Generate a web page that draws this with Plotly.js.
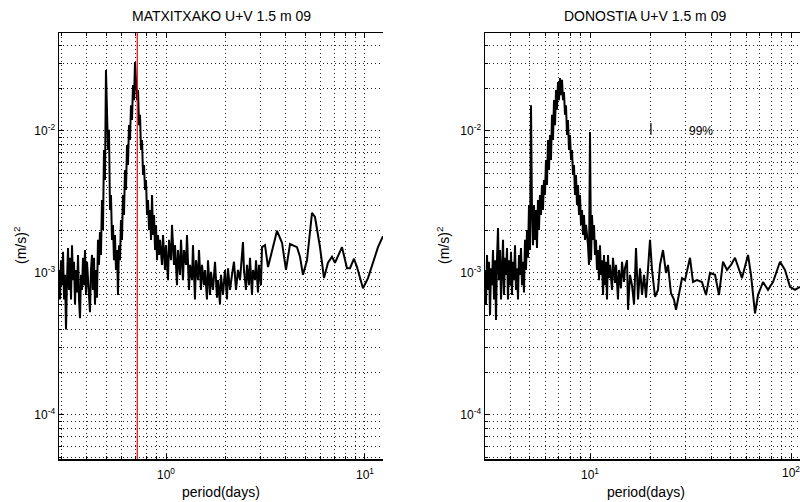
<!DOCTYPE html>
<html>
<head>
<meta charset="utf-8">
<script src="https://cdn.plot.ly/plotly-3.0.1.min.js"></script>
<style>html,body{margin:0;padding:0;background:#fff;}#chart{width:800px;height:502px;}</style>
</head>
<body>
<div id="chart"></div>
<script>
// ---------------- DATA ----------------
const titleLeft = 'MATXITXAKO U+V 1.5 m 09';
const titleRight = 'DONOSTIA U+V 1.5 m 09';
const xAxisTitle = 'period(days)';
const yAxisTitle = '(m/s)<sup>2</sup>';

// MATXITXAKO spectrum: period (days), power ((m/s)^2)
const periodLeft = [0.290,0.2934,0.2968,0.3003,0.3038,0.3073,0.3109,0.3144,0.3181,0.3218,0.3256,0.3293,0.3332,0.3370,0.3410,0.3449,0.3489,0.3530,0.3571,0.3613,0.3655,0.3697,0.3740,0.3784,0.3828,0.3872,0.3917,0.3963,0.4009,0.4055,0.4102,0.4150,0.4198,0.4247,0.4296,0.4346,0.4397,0.4448,0.4499,0.4552,0.4605,0.4658,0.4712,0.4767,0.4823,0.4879,0.4936,0.4993,0.5051,0.5110,0.5170,0.5230,0.5291,0.5352,0.5415,0.5478,0.5541,0.5606,0.5671,0.5737,0.5804,0.5872,0.5940,0.6009,0.6079,0.6150,0.6222,0.6295,0.6368,0.6442,0.6517,0.6593,0.6670,0.6748,0.6826,0.6906,0.6986,0.7068,0.7150,0.7234,0.7318,0.7403,0.7489,0.7577,0.7665,0.7754,0.7845,0.7936,0.8029,0.8122,0.8217,0.8313,0.8410,0.8508,0.8607,0.8707,0.8808,0.8911,0.9015,0.9119,0.9222,0.9329,0.9548,0.9659,0.9885,1.0,1.0234,1.0353,1.0596,1.0719,1.0970,1.1097,1.1357,1.1489,1.1759,1.1895,1.2173,1.2315,1.2603,1.2749,1.3048,1.3199,1.3508,1.3665,1.3985,1.4147,1.4479,1.4647,1.4990,1.5164,1.5523,1.5704,1.6069,1.6256,1.6636,1.6830,1.7224,1.7627,1.8040,1.8250,1.8677,1.8894,1.9336,1.9790,2.0253,2.0489,2.0968,2.1459,2.1961,2.2475,2.3001,2.3540,2.4091,2.4371,2.4655,2.5232,2.5526,2.6124,2.6428,2.7047,2.7362,2.8003,2.8329,2.8992,2.9330,3.0017,3.0366,3.1445,3.2560,3.4096,3.6134,3.8285,4.0089,4.2005,4.5540,4.7143,4.8803,5.1111,5.4163,5.6072,5.9407,6.2230,6.5170,6.8260,7.0660,7.6634,8.1202,8.4073,8.8058,9.1169,9.7700,10.354,10.970,11.624,12.316];
const powerLeft = [1.05e-3,6.5e-4,1.23e-3,8.2e-4,1.41e-3,6.5e-4,9.7e-4,4.0e-4,8.9e-4,1.5e-3,7.6e-4,1.28e-3,6.5e-4,1.57e-3,8.9e-4,1.2e-3,6.0e-4,1.05e-3,7.3e-4,1.34e-3,6.5e-4,4.8e-4,9.7e-4,7.6e-4,1.28e-3,8.2e-4,1.45e-3,7.0e-4,1.2e-3,8.9e-4,6.5e-4,5.3e-4,1.05e-3,1.34e-3,7.6e-4,1.28e-3,6.0e-4,1.05e-3,6.7e-4,1.71e-3,1.14e-3,1.94e-3,1.34e-3,3.27e-3,2.01e-3,7.35e-3,4.52e-3,2.69e-2,1.41e-2,7.35e-3,1.02e-2,2.78e-3,3.54e-3,1.71e-3,2.18e-3,1.23e-3,1.85e-3,1.05e-3,1.45e-3,7.0e-4,1.57e-3,1.23e-3,2.36e-3,1.71e-3,3.54e-3,2.56e-3,5.31e-3,3.84e-3,7.97e-3,5.76e-3,1.10e-2,8.64e-3,1.52e-2,1.195e-2,2.11e-2,1.65e-2,3.06e-2,2.29e-2,1.65e-2,1.94e-2,1.10e-2,1.30e-2,7.35e-3,8.64e-3,4.9e-3,5.76e-3,3.84e-3,4.52e-3,2.56e-3,3.27e-3,2.01e-3,2.78e-3,1.71e-3,3.54e-3,1.85e-3,2.56e-3,1.45e-3,2.18e-3,1.23e-3,1.85e-3,1.34e-3,1.71e-3,1.14e-3,1.85e-3,1.05e-3,1.57e-3,8.9e-4,1.71e-3,1.23e-3,2.18e-3,1.14e-3,1.57e-3,8.2e-4,1.45e-3,9.7e-4,1.71e-3,8.9e-4,1.45e-3,1.14e-3,1.85e-3,7.6e-4,1.14e-3,8.9e-4,1.57e-3,6.5e-4,1.23e-3,8.9e-4,1.45e-3,7.6e-4,1.14e-3,8.2e-4,1.05e-3,6.5e-4,1.23e-3,7.0e-4,1.02e-3,7.6e-4,1.2e-3,6.7e-4,8.9e-4,6.0e-4,9.7e-4,7.0e-4,1.05e-3,6.5e-4,1.08e-3,7.6e-4,9.7e-4,1.2e-3,7.6e-4,1.05e-3,8.9e-4,1.34e-3,1.65e-3,1.05e-3,7.6e-4,1.14e-3,8.2e-4,1.28e-3,7.0e-4,1.05e-3,8.9e-4,1.23e-3,7.3e-4,1.14e-3,8.2e-4,1.52e-3,1.57e-3,1.10e-3,1.41e-3,1.98e-3,1.63e-3,1.05e-3,1.60e-3,1.52e-3,1.30e-3,9.7e-4,1.23e-3,2.65e-3,2.48e-3,1.52e-3,9.2e-4,1.18e-3,1.30e-3,1.18e-3,1.52e-3,1.08e-3,1.08e-3,1.26e-3,1.10e-3,7.8e-4,9.2e-4,1.18e-3,1.52e-3,1.82e-3];

// DONOSTIA spectrum: period (days), power ((m/s)^2)
const periodRight = [3.003,3.038,3.073,3.109,3.144,3.181,3.218,3.255,3.292,3.330,3.369,3.407,3.447,3.486,3.527,3.567,3.608,3.650,3.692,3.734,3.777,3.821,3.865,3.908,3.954,3.999,4.046,4.091,4.139,4.187,4.235,4.283,4.333,4.383,4.433,4.484,4.536,4.588,4.642,4.694,4.749,4.804,4.859,4.914,4.971,5.029,5.087,5.144,5.204,5.264,5.325,5.385,5.447,5.510,5.574,5.637,5.702,5.768,5.835,5.901,5.970,6.039,6.109,6.180,6.252,6.324,6.397,6.470,6.545,6.621,6.698,6.773,6.852,6.931,7.011,7.091,7.173,7.256,7.340,7.423,7.509,7.596,7.684,7.771,7.861,7.952,8.044,8.135,8.230,8.325,8.421,8.517,8.616,8.716,8.817,8.916,9.020,9.125,9.231,9.335,9.443,9.552,9.663,9.772,9.886,10.0,10.12,10.23,10.35,10.47,10.59,10.71,10.83,10.96,11.09,11.21,11.34,11.47,11.61,11.74,11.87,12.01,12.15,12.29,12.43,12.57,12.87,13.01,13.32,13.47,13.78,13.94,14.26,14.43,14.76,14.93,15.28,15.46,15.81,16.18,16.56,16.94,17.34,17.74,18.15,18.57,19.00,19.44,19.89,20.35,21.06,21.79,22.30,23.08,23.88,24.43,25.29,26.17,26.78,27.40,28.69,29.69,31.44,32.54,34.07,36.07,37.77,39.54,41.88,43.84,45.90,48.05,50.29,52.66,55.13,57.05,61.12,63.24,66.22,68.53,72.57,76.85,81.37,88.16,93.35,98.86,104.7,110.9];
const powerRight = [1.05e-3,6.0e-4,1.34e-3,7.6e-4,1.2e-3,5.06e-4,1.08e-3,8.2e-4,1.45e-3,6.5e-4,1.23e-3,4.67e-4,1.28e-3,2.07e-3,8.9e-4,1.45e-3,6.5e-4,1.2e-3,1.71e-3,7.0e-4,1.28e-3,9.7e-4,1.5e-3,6.5e-4,1.23e-3,8.2e-4,1.41e-3,7.0e-4,1.2e-3,8.9e-4,1.57e-3,7.6e-4,1.08e-3,6.5e-4,1.34e-3,9.7e-4,1.5e-3,8.2e-4,1.2e-3,7.3e-4,1.71e-3,1.05e-3,2.01e-3,1.28e-3,3.01e-3,1.45e-3,1.52e-2,2.78e-3,1.57e-3,3.01e-3,1.71e-3,2.78e-3,1.5e-3,3.27e-3,2.01e-3,3.54e-3,2.56e-3,4.17e-3,2.78e-3,4.52e-3,3.54e-3,6.25e-3,4.17e-3,8.64e-3,5.31e-3,9.37e-3,6.25e-3,1.30e-2,8.64e-3,1.65e-2,1.10e-2,1.94e-2,1.41e-2,2.21e-2,1.65e-2,2.36e-2,1.79e-2,2.29e-2,1.65e-2,1.88e-2,1.30e-2,1.52e-2,9.37e-3,1.195e-2,7.35e-3,9.37e-3,6.25e-3,7.35e-3,4.9e-3,5.76e-3,3.54e-3,4.9e-3,3.01e-3,4.17e-3,2.56e-3,3.54e-3,2.18e-3,2.78e-3,1.85e-3,2.56e-3,1.71e-3,2.18e-3,1.85e-3,1.57e-3,1.14e-3,9.84e-3,1.23e-3,2.56e-3,1.71e-3,2.18e-3,1.34e-3,1.71e-3,1.05e-3,1.45e-3,8.9e-4,1.57e-3,9.7e-4,1.23e-3,7.0e-4,1.34e-3,8.2e-4,1.2e-3,6.5e-4,1.34e-3,9.2e-4,1.14e-3,7.6e-4,1.28e-3,8.5e-4,1.14e-3,6.5e-4,1.05e-3,7.8e-4,1.2e-3,8.64e-4,1.08e-3,1.23e-3,5.5e-4,9.7e-4,8.2e-4,6.0e-4,1.5e-3,6.5e-4,1.08e-3,7.0e-4,9.7e-4,6.7e-4,1.05e-3,1.71e-3,1.05e-3,6.8e-4,7.6e-4,1.14e-3,1.45e-3,1.0e-3,1.14e-3,7.2e-4,6.5e-4,5.5e-4,6.5e-4,9.2e-4,8.9e-4,1.28e-3,8.64e-4,8.9e-4,8.64e-4,7.0e-4,1.0e-3,9.7e-4,7.0e-4,1.2e-3,1.05e-3,1.14e-3,1.28e-3,1.05e-3,9.2e-4,1.34e-3,9.7e-4,5.2e-4,7.0e-4,8.64e-4,7.6e-4,8.64e-4,1.2e-3,1.05e-3,8.0e-4,7.6e-4,8.0e-4];

const inertialPeriod = 0.717;          // red vertical line (days)
const ciPeriod = [20.1, 20.1];         // 99% confidence bar
const ciPower = [1.14e-2, 9.4e-3];
const ciLabel = '99%';
const ciLabelPeriod = 30.4;
const ciLabelPower = 1.0e-2;

const yTickVals = [1e-4, 1e-3, 1e-2];
const yTickText = ['10<sup>-4</sup>', '10<sup>-3</sup>', '10<sup>-2</sup>'];
const xTickValsLeft = [1, 10];
const xTickTextLeft = ['10<sup>0</sup>', '10<sup>1</sup>'];
const xTickValsRight = [10, 100];
const xTickTextRight = ['10<sup>1</sup>', ''];   // 10^2 label drawn as annotation (sits on the clipped edge)
const edgeTickVal = 100;
const edgeTickText = '10<sup>2</sup>';

// ---------------- STYLE ----------------
const FONT = 'Liberation Sans, Arial, Helvetica, sans-serif';
const W = 800, H = 502;
const minorVals = [];
for (let e = -6; e <= 3; e++) for (let k = 2; k <= 9; k++) minorVals.push(k * Math.pow(10, e));

const gridDash = '1px,3px';
const gridColor = '#222';
function axisBase(extra) {
  return Object.assign({
    type: 'log', showline: true, linecolor: '#000', linewidth: 1.5,
    ticks: 'inside', ticklen: 5, tickcolor: '#000', tickwidth: 1,
    showgrid: true, gridcolor: gridColor, gridwidth: 1, griddash: gridDash,
    zeroline: false, tickmode: 'array',
    tickfont: {family: FONT, size: 12, color: '#000'},
    minor: {tickmode: 'array', tickvals: minorVals, ticks: 'inside', ticklen: 3, tickcolor: '#000',
            showgrid: true, gridcolor: gridColor, gridwidth: 1, griddash: gridDash},
    fixedrange: true
  }, extra);
}
const yDom = [1 - 459 / H, 1 - 33 / H];
const yRange = [-4.310, -1.310];

const layout = {
  width: W, height: H,
  margin: {l: 0, r: 0, t: 0, b: 0},
  paper_bgcolor: '#fff', plot_bgcolor: '#fff',
  showlegend: false, hovermode: false,
  font: {family: FONT, color: '#000'},
  xaxis: axisBase({domain: [59 / W, 383 / W], range: [-0.5377, 1.0905], anchor: 'y',
    mirror: 'ticks', tickvals: xTickValsLeft, ticktext: xTickTextLeft, ticklabelstandoff: 4}),
  yaxis: axisBase({domain: yDom, range: yRange, anchor: 'x',
    tickvals: yTickVals, ticktext: yTickText}),
  xaxis2: axisBase({domain: [485 / W, 1], range: [0.4776, 2.0448], anchor: 'y2',
    mirror: 'ticks', tickvals: xTickValsRight, ticktext: xTickTextRight, ticklabelstandoff: 4}),
  yaxis2: axisBase({domain: yDom, range: yRange, anchor: 'x2',
    tickvals: yTickVals, ticktext: yTickText}),
  shapes: [{type: 'line', xref: 'x', yref: 'y domain', x0: inertialPeriod, x1: inertialPeriod,
            y0: 0, y1: 1, line: {color: 'rgb(235,0,0)', width: 1.2}}],
  annotations: [
    {text: titleLeft, xref: 'paper', yref: 'paper', x: 221 / W, y: 1 - 16 / H, showarrow: false,
     xanchor: 'center', yanchor: 'middle', font: {family: FONT, size: 14, color: '#000'}},
    {text: titleRight, xref: 'paper', yref: 'paper', x: 645 / W, y: 1 - 16 / H, showarrow: false,
     xanchor: 'center', yanchor: 'middle', font: {family: FONT, size: 14, color: '#000'}},
    {text: xAxisTitle, xref: 'paper', yref: 'paper', x: 221 / W, y: 1 - 492 / H, showarrow: false,
     xanchor: 'center', yanchor: 'middle', font: {family: FONT, size: 14, color: '#000'}},
    {text: xAxisTitle, xref: 'paper', yref: 'paper', x: 646 / W, y: 1 - 492 / H, showarrow: false,
     xanchor: 'center', yanchor: 'middle', font: {family: FONT, size: 14, color: '#000'}},
    {text: yAxisTitle, xref: 'paper', yref: 'paper', x: 20 / W, y: 1 - 246 / H, showarrow: false,
     textangle: -90, xanchor: 'center', yanchor: 'middle', font: {family: FONT, size: 14, color: '#000'}},
    {text: yAxisTitle, xref: 'paper', yref: 'paper', x: 443 / W, y: 1 - 246 / H, showarrow: false,
     textangle: -90, xanchor: 'center', yanchor: 'middle', font: {family: FONT, size: 14, color: '#000'}},
    {text: ciLabel, xref: 'x2', yref: 'y2', x: Math.log10(ciLabelPeriod), y: Math.log10(ciLabelPower),
     showarrow: false, xanchor: 'left', yanchor: 'middle', font: {family: FONT, size: 12, color: '#000'}},
    {text: edgeTickText, xref: 'x2', yref: 'paper', x: Math.log10(edgeTickVal), y: 1 - 472 / H,
     showarrow: false, xanchor: 'center', yanchor: 'middle', font: {family: FONT, size: 12, color: '#000'}}
  ]
};

const data = [
  {type: 'scatter', mode: 'lines', x: periodLeft, y: powerLeft, xaxis: 'x', yaxis: 'y',
   line: {color: '#000', width: 2}, hoverinfo: 'skip'},
  {type: 'scatter', mode: 'lines', x: periodRight, y: powerRight, xaxis: 'x2', yaxis: 'y2',
   line: {color: '#000', width: 2}, hoverinfo: 'skip'},
  {type: 'scatter', mode: 'lines', x: ciPeriod, y: ciPower, xaxis: 'x2', yaxis: 'y2',
   line: {color: '#000', width: 1.2}, hoverinfo: 'skip'}
];

Plotly.newPlot('chart', data, layout, {staticPlot: true, displayModeBar: false});
</script>
</body>
</html>
